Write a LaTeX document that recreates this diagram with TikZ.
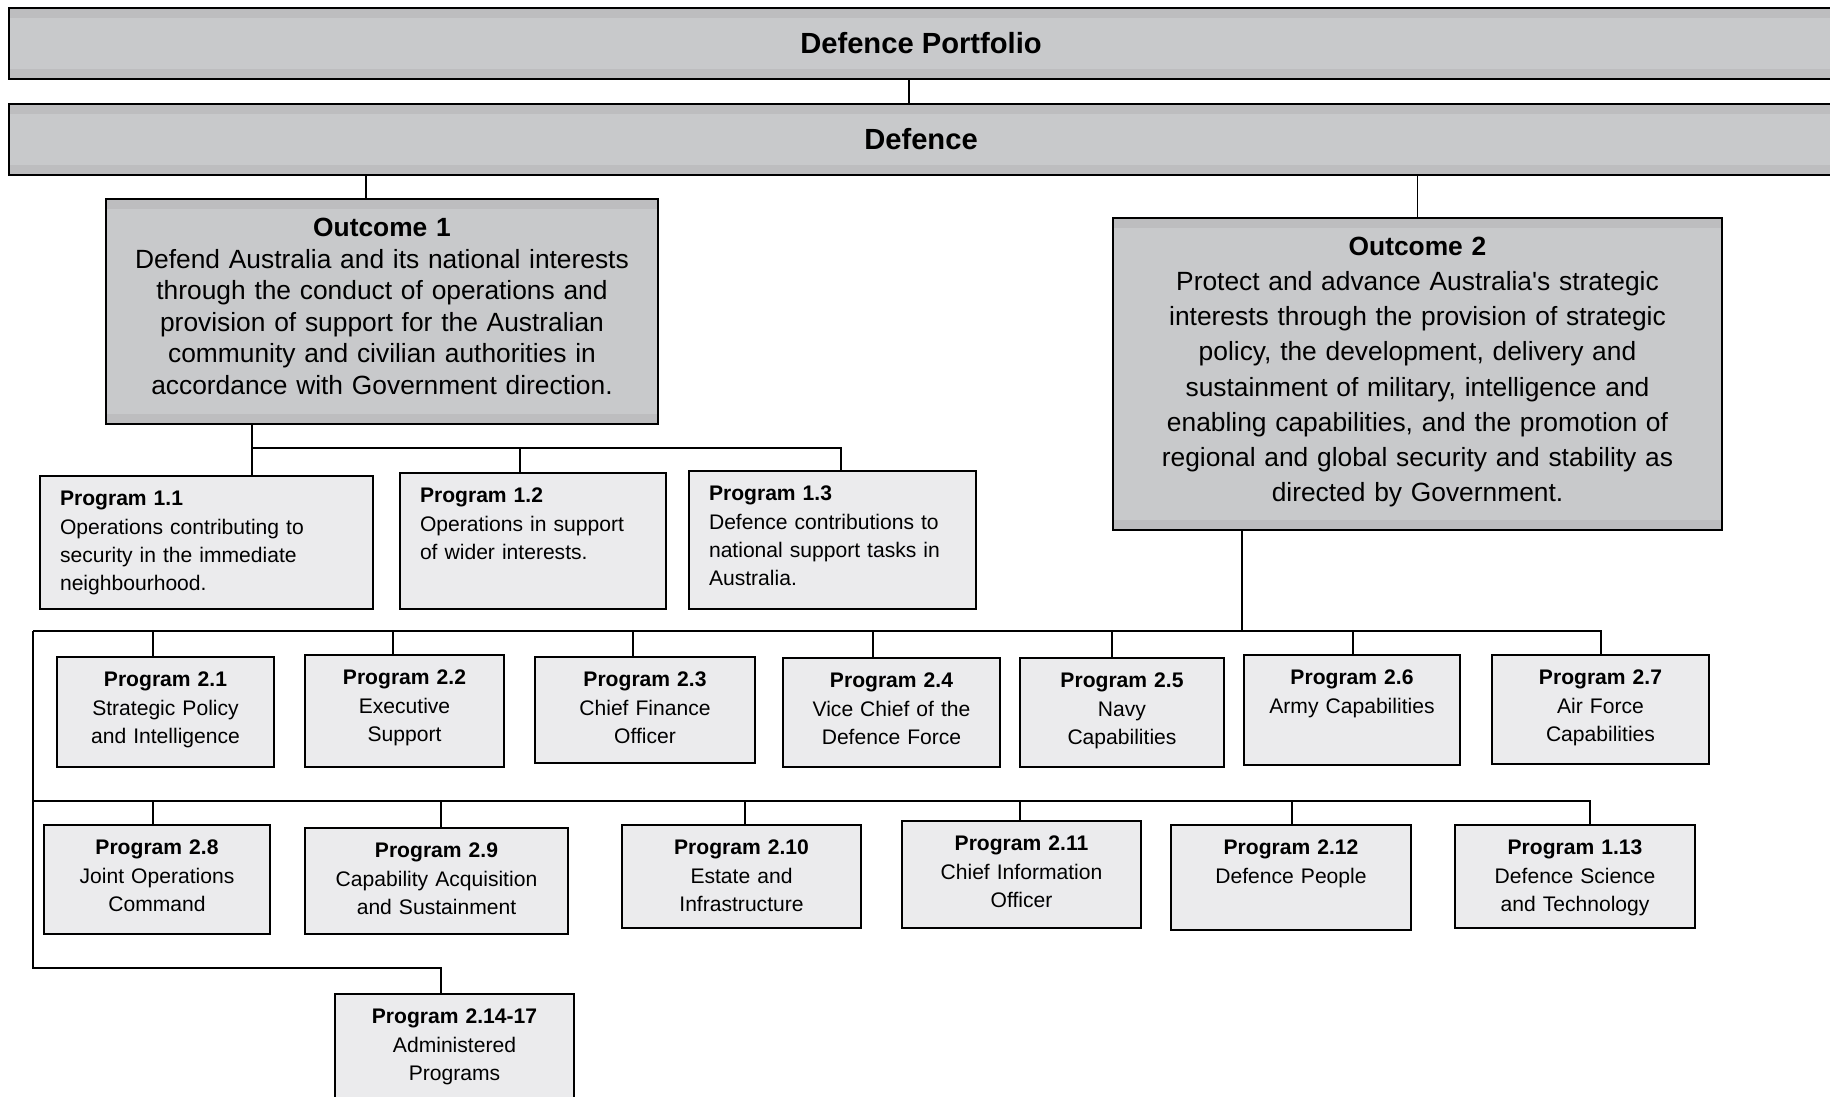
\documentclass[tikz,border=0pt]{standalone}
\usepackage{fontspec}
\setmainfont{Liberation Sans}
\definecolor{BoxGray}{HTML}{C8C9CB}
\definecolor{BandGray}{HTML}{BDBDBF}
\definecolor{ProgGray}{HTML}{EBEBED}

\begin{document}
\begin{tikzpicture}[
        x=0.02cm, y=-0.02cm,
        band/.style={path picture={
            \fill[BandGray] (path picture bounding box.north west) rectangle ([yshift=-0.2cm]path picture bounding box.north east);
            \fill[BandGray] (path picture bounding box.south west) rectangle ([yshift=0.2cm]path picture bounding box.south east);}},
        head/.style={draw, line width=1.1pt, fill=BoxGray, band, minimum width=36.48cm, minimum height=1.42cm, font=\fontsize{16.6}{20}\selectfont\bfseries},
        outc/.style={draw, line width=1.1pt, fill=BoxGray, band, anchor=north, align=center, inner xsep=0pt, inner ysep=0.3cm, text height=0.45cm, font=\fontsize{15}{18}\selectfont},
        progl/.style={draw, line width=1.1pt, fill=ProgGray, anchor=north, align=left, inner xsep=0.4cm, inner ysep=0.25cm, text height=0.35cm, font=\fontsize{12}{16}\selectfont},
        prog/.style={progl, align=center, inner xsep=0pt},
        conn/.style={line width=1.1pt}
    ]
        \useasboundingbox (0,0) rectangle (1830,1097);

        % top levels
        \node[head] (port) at (921, 43.5) {Defence Portfolio};
        \node[head] (def) at (921, 139.5) {Defence};

        % outcomes
        \node[outc, text width=11.04cm, text depth=3.45cm] (o1) at (382, 198)
            {\textbf{Outcome 1}\\Defend Australia and its national interests\\through the conduct of operations and\\provision of support for the Australian\\community and civilian authorities in\\accordance with Government direction.};
        \node[outc, text width=12.18cm, text depth=5.19cm, font=\fontsize{15}{20}\selectfont] (o2) at (1417.5, 217)
            {\textbf{Outcome 2}\\Protect and advance Australia\textquotesingle s strategic\\interests through the provision of strategic\\policy, the development, delivery and\\sustainment of military, intelligence and\\enabling capabilities, and the promotion of\\regional and global security and stability as\\directed by Government.};

        % outcome 1 programs
        \node[progl, text width=5.86cm, text depth=1.81cm] (p11) at (206.5, 475)
            {\textbf{Program 1.1}\\Operations contributing to\\security in the immediate\\neighbourhood.};
        \node[progl, text width=4.52cm, text depth=1.87cm] (p12) at (533, 472)
            {\textbf{Program 1.2}\\Operations in support\\of wider interests.};
        \node[progl, text width=4.94cm, text depth=1.91cm] (p13) at (832.5, 470)
            {\textbf{Program 1.3}\\Defence contributions to\\national support tasks in\\Australia.};

        % outcome 2 programs, first row
        \node[prog, text width=4.34cm, text depth=1.35cm] (p21) at (165.5, 656) {\textbf{Program 2.1}\\Strategic Policy\\and Intelligence};
        \node[prog, text width=3.98cm, text depth=1.39cm] (p22) at (404.5, 654) {\textbf{Program 2.2}\\Executive\\Support};
        \node[prog, text width=4.40cm, text depth=1.27cm] (p23) at (645, 656) {\textbf{Program 2.3}\\Chief Finance\\Officer};
        \node[prog, text width=4.34cm, text depth=1.33cm] (p24) at (891.5, 657) {\textbf{Program 2.4}\\Vice Chief of the\\Defence Force};
        \node[prog, text width=4.08cm, text depth=1.33cm] (p25) at (1122, 657) {\textbf{Program 2.5}\\Navy\\Capabilities};
        \node[prog, text width=4.32cm, text depth=1.35cm] (p26) at (1352, 654) {\textbf{Program 2.6}\\Army Capabilities};
        \node[prog, text width=4.34cm, text depth=1.33cm] (p27) at (1600.5, 654) {\textbf{Program 2.7}\\Air Force\\Capabilities};

        % second row
        \node[prog, text width=4.52cm, text depth=1.33cm] (p28) at (157, 824) {\textbf{Program 2.8}\\Joint Operations\\Command};
        \node[prog, text width=5.26cm, text depth=1.27cm] (p29) at (436.5, 827) {\textbf{Program 2.9}\\Capability Acquisition\\and Sustainment};
        \node[prog, text width=4.78cm, text depth=1.21cm] (p210) at (741.5, 824) {\textbf{Program 2.10}\\Estate and\\Infrastructure};
        \node[prog, text width=4.78cm, text depth=1.29cm] (p211) at (1021.5, 820) {\textbf{Program 2.11}\\Chief Information\\Officer};
        \node[prog, text width=4.80cm, text depth=1.25cm] (p212) at (1291, 824) {\textbf{Program 2.12}\\Defence People};
        \node[prog, text width=4.80cm, text depth=1.21cm] (p113) at (1575, 824) {\textbf{Program 1.13}\\Defence Science\\and Technology};

        % administered
        \node[prog, text width=4.78cm, text depth=1.55cm] (p214) at (454.5, 993) {\textbf{Program 2.14-17}\\Administered\\Programs};

        % connectors
        \coordinate (bus1) at (252, 448);
        \coordinate (bus2) at (1242, 631);
        \coordinate (rail2) at (33, 631);
        \coordinate (rail3) at (33, 801);
        \coordinate (rail4) at (33, 968);

        \draw[conn] ([xshift=-0.24cm]port.south) -- ([xshift=-0.24cm]def.north);
        \draw[conn] ([xshift=-0.32cm]o1.north) -- ([xshift=-0.32cm]o1.north |- def.south);
        \draw[conn] (o2.north) -- (o2.north |- def.south);

        \draw[conn] (bus1 |- o1.south) -- (bus1) -- (bus1 |- p11.north);
        \draw[conn] (bus1) -| ([xshift=0.17cm]p13.north);
        \draw[conn] ([xshift=-0.26cm]p12.north) -- ([xshift=-0.26cm]p12.north |- bus1);

        \draw[conn] (bus2 |- o2.south) -- (bus2);
        \draw[conn] (rail2) -| ([xshift=0.01cm]p27.north);
        \draw[conn] (rail3) -| ([xshift=0.3cm]p113.north);
        \draw[conn] (rail2) -- (rail4) -| ([xshift=-0.27cm]p214.north);
        \foreach \n/\dx in {p21/-0.25, p22/-0.23, p23/-0.24, p24/-0.37, p25/-0.2, p26/0.02}
            \draw[conn] ([xshift=\dx cm]\n.north) -- ([xshift=\dx cm]\n.north |- rail2);
        \foreach \n/\dx in {p28/-0.08, p29/0.09, p210/0.07, p211/-0.03, p212/0.02}
            \draw[conn] ([xshift=\dx cm]\n.north) -- ([xshift=\dx cm]\n.north |- rail3);
    \end{tikzpicture}
\end{document}
